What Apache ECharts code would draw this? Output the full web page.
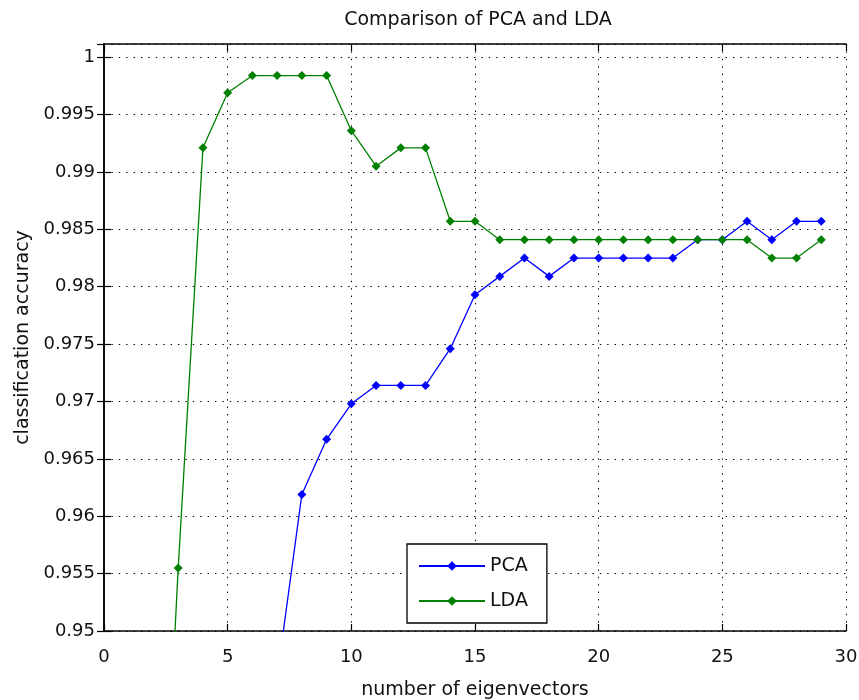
<!DOCTYPE html>
<html><head><meta charset="utf-8">
<script src="https://cdn.jsdelivr.net/npm/echarts@6/dist/echarts.min.js"></script>
<style>html,body{margin:0;padding:0;background:#fff}#c{width:859px;height:700px}</style>
</head><body><div id="c"></div>
<script>
// ---- data ----
const eigenvectors = [1,2,3,4,5,6,7,8,9,10,11,12,13,14,15,16,17,18,19,20,21,22,23,24,25,26,27,28,29];
const pcaAccuracy = [null,null,null,null,null,null,0.946,0.9619,0.9667,0.9698,0.9714,0.9714,0.9714,0.9746,0.9793,0.9809,0.9825,0.9809,0.9825,0.9825,0.9825,0.9825,0.9825,0.9841,0.9841,0.9857,0.9841,0.9857,0.9857];
const ldaAccuracy = [null,0.913,0.9555,0.9921,0.9969,0.9984,0.9984,0.9984,0.9984,0.9936,0.9905,0.9921,0.9921,0.9857,0.9857,0.9841,0.9841,0.9841,0.9841,0.9841,0.9841,0.9841,0.9841,0.9841,0.9841,0.9841,0.9825,0.9825,0.9841];
const xTickLabels = ['0','5','10','15','20','25','30'];
const yTickValues = [0.95,0.955,0.96,0.965,0.97,0.975,0.98,0.985,0.99,0.995,1];
const yTickLabels = ['0.95','0.955','0.96','0.965','0.97','0.975','0.98','0.985','0.99','0.995','1'];
const seriesNames = ['PCA','LDA'];
const titleText = 'Comparison of PCA and LDA';
const xName = 'number of eigenvectors';
const yName = 'classification accuracy';

const FONT = 'DejaVu Sans';
const TXT = '#111';
function pairs(vals){ return eigenvectors.map((x,i)=>[x, vals[i]]); }
function yLabel(v){
  for (let i=0;i<yTickValues.length;i++){ if (Math.abs(v-yTickValues[i])<1e-7) return yTickLabels[i]; }
  return '';
}
function xLabel(v){ const s = String(Math.round(v)); return xTickLabels.indexOf(s)>=0 && Math.abs(v-Math.round(v))<1e-7 ? s : ''; }

const boxLine = {show:true, lineStyle:{color:'#000', width:1.5}};
const tickIn = {show:true, inside:true, length:7, lineStyle:{color:'#000', width:1.2}};
const dotted = {show:true, lineStyle:{color:'#000', width:1, type:[1.4,6]}};

const chart = echarts.init(document.getElementById('c'), null, {renderer:'canvas'});
chart.setOption({
  backgroundColor:'#fff',
  animation:false,
  title:{text:titleText, left:473, top:6, textAlign:'center',
    textStyle:{fontFamily:FONT, fontSize:19, fontWeight:'normal', color:TXT}},
  grid:{left:104, right:13, top:44, bottom:69, containLabel:false, outerBoundsMode:'none'},
  legend:{
    orient:'vertical', left:407, top:544,
    padding:[12,19,12,11], itemGap:15, itemWidth:66, itemHeight:12,
    backgroundColor:'#fff', borderColor:'#000', borderWidth:1.3, borderRadius:0,
    textStyle:{fontFamily:FONT, fontSize:19, color:TXT, lineHeight:20},
    data:seriesNames
  },
  xAxis:[
    {type:'value', min:0, max:30, interval:5, position:'bottom',
     name:xName, nameLocation:'middle', nameGap:50,
     nameTextStyle:{fontFamily:FONT, fontSize:19, color:TXT},
     axisLine:boxLine, axisTick:tickIn, splitLine:dotted,
     axisLabel:{fontFamily:FONT, fontSize:18, color:TXT, margin:17, formatter:xLabel}},
    {type:'value', min:0, max:30, interval:5, position:'top',
     axisLine:boxLine, axisTick:tickIn, splitLine:{show:false}, axisLabel:{show:false}}
  ],
  yAxis:[
    {type:'value', min:0.95, max:1.00115, interval:0.005, position:'left',
     name:yName, nameLocation:'middle', nameGap:70, nameRotate:90,
     nameTextStyle:{fontFamily:FONT, fontSize:19, color:TXT},
     axisLine:boxLine, axisTick:tickIn, splitLine:dotted,
     axisLabel:{fontFamily:FONT, fontSize:18, color:TXT, margin:9, showMaxLabel:false, formatter:yLabel}},
    {type:'value', min:0.95, max:1.00115, interval:0.005, position:'right',
     axisLine:boxLine, axisTick:tickIn, splitLine:{show:false}, axisLabel:{show:false}}
  ],
  series:[
    {name:seriesNames[0], type:'line', xAxisIndex:0, yAxisIndex:0, data:pairs(pcaAccuracy),
     clip:true, connectNulls:false, symbol:'diamond', symbolSize:9, showAllSymbol:true,
     lineStyle:{color:'#0000ff', width:1.3}, itemStyle:{color:'#0000ff'}},
    {name:seriesNames[1], type:'line', xAxisIndex:0, yAxisIndex:0, data:pairs(ldaAccuracy),
     clip:true, connectNulls:false, symbol:'diamond', symbolSize:9, showAllSymbol:true,
     lineStyle:{color:'#008000', width:1.3}, itemStyle:{color:'#008000'}}
  ]
});
</script></body></html>
